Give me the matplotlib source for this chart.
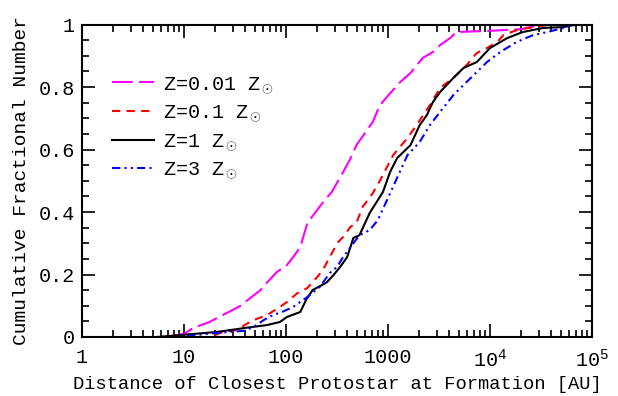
import numpy as np
import matplotlib
matplotlib.use("Agg")
import matplotlib.pyplot as plt
from matplotlib.ticker import FixedLocator, LogLocator, NullFormatter, FixedFormatter

plt.rcParams['font.family'] = ['Liberation Mono', 'DejaVu Serif']
plt.rcParams['mathtext.fontset'] = 'custom'
plt.rcParams['mathtext.rm'] = 'Liberation Mono'
plt.rcParams['mathtext.it'] = 'Liberation Mono'
plt.rcParams['mathtext.bf'] = 'Liberation Mono'

# Cumulative distributions of closest-protostar distance [AU] at formation
dist_z001 = [7.8, 10, 12.3, 17.8, 26.3, 35.5, 44.7, 56.2, 67.6, 81.3, 102, 120, 138,
             162, 195, 229, 282, 363, 427, 490, 575, 708, 832, 1047, 1318, 1660,
             2188, 2754, 3236, 4074, 4677, 10000, 19950, 31620]
frac_z001 = [0.004, 0.010, 0.029, 0.048, 0.077, 0.099, 0.125, 0.150, 0.180, 0.208,
             0.230, 0.260, 0.288, 0.365, 0.400, 0.430, 0.465, 0.528, 0.570, 0.614,
             0.646, 0.688, 0.742, 0.780, 0.816, 0.845, 0.893, 0.912, 0.934, 0.957,
             0.976, 0.980, 0.985, 1.000]

dist_z01 = [20, 24, 33, 40, 48, 65, 87, 102, 129, 162, 200, 229, 269, 316, 363, 427,
            490, 562, 708, 832, 1122, 1549, 1905, 2570, 3236, 4365, 5888, 7413, 9333,
            11750, 13490, 18200, 24550, 38900]
frac_z01 = [0.006, 0.016, 0.022, 0.040, 0.054, 0.070, 0.096, 0.112, 0.140, 0.157,
            0.190, 0.214, 0.256, 0.300, 0.320, 0.352, 0.365, 0.416, 0.460, 0.500,
            0.582, 0.637, 0.678, 0.742, 0.797, 0.829, 0.870, 0.909, 0.925, 0.944,
            0.966, 0.982, 0.990, 1.000]

dist_z1 = [5.4, 20.9, 41.7, 64.6, 87.1, 102, 138, 158, 182, 251, 295, 339, 398, 457,
           525, 661, 794, 891, 1047, 1230, 1660, 2042, 2399, 2754, 3236, 4365, 5495,
           7413, 10000, 14790, 20890, 33110, 52480, 70790]
frac_z1 = [0.000, 0.016, 0.030, 0.038, 0.048, 0.064, 0.080, 0.120, 0.150, 0.175,
           0.200, 0.224, 0.256, 0.317, 0.326, 0.397, 0.438, 0.464, 0.528, 0.573,
           0.614, 0.678, 0.710, 0.752, 0.784, 0.829, 0.861, 0.880, 0.925, 0.957,
           0.976, 0.989, 0.992, 1.000]

dist_z3 = [10.7, 20.9, 39.8, 51.3, 60.3, 74.1, 91.2, 117, 162, 214, 269, 316, 363,
           457, 525, 661, 794, 977, 1230, 1549, 2042, 2570, 3467, 4365, 5888, 7413,
           9333, 12590, 18200, 26300, 36310, 52480, 70790]
frac_z3 = [0.003, 0.013, 0.020, 0.038, 0.054, 0.070, 0.080, 0.096, 0.128, 0.160,
           0.205, 0.224, 0.256, 0.300, 0.326, 0.342, 0.374, 0.438, 0.510, 0.582,
           0.624, 0.678, 0.733, 0.774, 0.816, 0.848, 0.880, 0.912, 0.944, 0.966,
           0.976, 0.989, 1.000]

labels = ['Z=0.01 Z$_\\odot$', 'Z=0.1 Z$_\\odot$', 'Z=1 Z$_\\odot$', 'Z=3 Z$_\\odot$']

fig = plt.figure(figsize=(6.18, 3.96), dpi=100)
ax = fig.add_axes([0.1327, 0.149, 0.8253, 0.789])

ax.plot(dist_z001, frac_z001, color='#ff00ff', lw=1.5, dashes=(10, 3), label=labels[0])
ax.plot(dist_z01, frac_z01, color='#ff0000', lw=1.5, dashes=(4, 3), label=labels[1])
ax.plot(dist_z1, frac_z1, color='black', lw=1.5, label=labels[2])
ax.plot(dist_z3, frac_z3, color='#0000ff', lw=1.5, dashes=(4, 2, 1, 2, 1, 2),
        label=labels[3])

ax.set_xscale('log')
ax.set_xlim(1, 1e5)
ax.set_ylim(0, 1)

ax.xaxis.set_major_locator(FixedLocator([1, 10, 100, 1000, 1e4, 1e5]))
ax.xaxis.set_major_formatter(FixedFormatter(['1', '10', '100', '1000', r'$10^4$', r'$10^5$']))
ax.xaxis.set_minor_locator(LogLocator(base=10, subs=np.arange(2, 10)))
ax.xaxis.set_minor_formatter(NullFormatter())
ax.yaxis.set_major_locator(FixedLocator([0, 0.2, 0.4, 0.6, 0.8, 1.0]))
ax.yaxis.set_major_formatter(FixedFormatter(['0', '0.2', '0.4', '0.6', '0.8', '1']))
ax.yaxis.set_minor_locator(FixedLocator(np.arange(0, 1.0001, 0.05)))

ax.tick_params(which='both', direction='in', top=True, right=True, width=1.2,
               labelsize=14.5)
ax.tick_params(which='major', length=9.5)
ax.tick_params(which='minor', length=5)
ax.tick_params(axis='x', pad=8)
ax.tick_params(axis='y', pad=5)
for s in ax.spines.values():
    s.set_linewidth(1.5)

ax.set_xlabel('Distance of Closest Protostar at Formation [AU]', fontsize=13.5, labelpad=4)
ax.set_ylabel('Cumulative Fractional Number', fontsize=14, labelpad=6)

ax.legend(loc='upper left', bbox_to_anchor=(0.059, 0.84), frameon=False,
          borderpad=0, borderaxespad=0, handlelength=2.1, handletextpad=0.45,
          labelspacing=0.38, fontsize=14.5)

fig.savefig('out.png', dpi=100)
